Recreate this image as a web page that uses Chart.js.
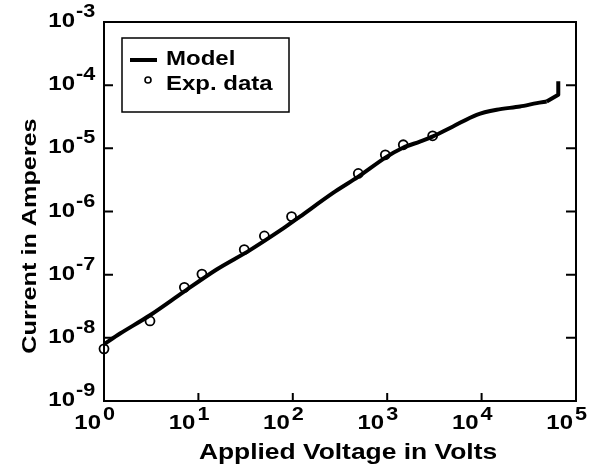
<!DOCTYPE html>
<html>
<head>
<meta charset="utf-8">
<script src="https://cdn.jsdelivr.net/npm/chart.js@4.4.1/dist/chart.umd.min.js"></script>
<style>
  html, body { margin: 0; padding: 0; background: #fff; }
</style>
</head>
<body>
<canvas id="ivChart" width="602" height="468"></canvas>
<script>
// Model curve: applied voltage (V) and current (A)
let modelVolts = [1, 1.48, 3.07, 6.92, 15.6, 35.2, 79.3, 119, 267, 491, 948, 1470, 2220, 3055, 4980, 8870, 14450, 25500, 38400, 48900, 64900, 64900];
let modelAmps = [7.9e-9, 1.17e-8, 2.28e-8, 5.3e-8, 1.21e-7, 2.45e-7, 5.4e-7, 8.3e-7, 1.97e-6, 3.53e-6, 7.06e-6, 1.02e-5, 1.28e-5, 1.55e-5, 2.22e-5, 3.4e-5, 4.08e-5, 4.6e-5, 5.2e-5, 5.5e-5, 7.06e-5, 1.15e-4];

// Experimental data points
let expVolts = [1, 3.07, 7.1, 10.9, 30.6, 50, 97, 494, 955, 1480, 3030];
let expAmps = [6.7e-9, 1.85e-8, 6.3e-8, 1.02e-7, 2.5e-7, 4.1e-7, 8.3e-7, 4.0e-6, 7.9e-6, 1.14e-5, 1.58e-5];

// Decade ticks and their exponents
let xTicks = [1, 10, 100, 1000, 10000, 100000];
let xExps = ["0", "1", "2", "3", "4", "5"];
let yTicks = [1e-9, 1e-8, 1e-7, 1e-6, 1e-5, 1e-4, 1e-3];
let yExps = ["-9", "-8", "-7", "-6", "-5", "-4", "-3"];

let xTitle = "Applied Voltage in Volts";
let yTitle = "Current in Amperes";
let legendLabels = ["Model", "Exp. data"];

// the original lettering is a wide Helvetica, so stretch Liberation Sans a bit
const SX = 1.2;
function wideText(ctx, text, x, y, size, align) {
  ctx.save();
  ctx.font = "bold " + size + 'px "Liberation Sans", Arial, sans-serif';
  let w = ctx.measureText(text).width * SX;
  let x0 = align === "right" ? x - w : align === "center" ? x - w / 2 : x;
  ctx.translate(x0, y);
  ctx.scale(SX, 1);
  ctx.textAlign = "left";
  ctx.textBaseline = "alphabetic";
  ctx.fillStyle = "#000";
  ctx.fillText(text, 0, 0);
  ctx.restore();
  return w;
}

// Frame, inward ticks, power-of-ten labels, titles and legend
const decorations = {
  id: "decorations",
  afterDatasetsDraw(chart) {
    let ctx = chart.ctx;
    let a = chart.chartArea;
    let xs = chart.scales.x;
    let ys = chart.scales.y;

    ctx.save();
    ctx.strokeStyle = "#000";
    ctx.lineWidth = 2;
    ctx.strokeRect(a.left, a.top, a.right - a.left, a.bottom - a.top);

    // y ticks on both sides, x ticks along the bottom
    ctx.beginPath();
    for (let i = 0; i < yTicks.length; i++) {
      let py = ys.getPixelForValue(yTicks[i]);
      ctx.moveTo(a.left, py);
      ctx.lineTo(a.left + 9, py);
      ctx.moveTo(a.right, py);
      ctx.lineTo(a.right - 10, py);
    }
    for (let i = 0; i < xTicks.length; i++) {
      let px = xs.getPixelForValue(xTicks[i]);
      ctx.moveTo(px, a.bottom);
      ctx.lineTo(px, a.bottom - 8);
    }
    ctx.stroke();

    // y labels
    for (let i = 0; i < yTicks.length; i++) {
      let py = ys.getPixelForValue(yTicks[i]);
      wideText(ctx, "10", a.left - 29, py + 5, 20, "right");
      wideText(ctx, yExps[i], a.left - 28, py - 5, 18, "left");
    }
    // x labels
    for (let i = 0; i < xTicks.length; i++) {
      let px = xs.getPixelForValue(xTicks[i]);
      wideText(ctx, "10", px - 3, 429, 20, "right");
      wideText(ctx, xExps[i], px - 1, 420, 18, "left");
    }

    // axis titles
    wideText(ctx, xTitle, 348, 459, 22, "center");
    ctx.save();
    ctx.translate(36, 236);
    ctx.rotate(-Math.PI / 2);
    wideText(ctx, yTitle, 0, 0, 21, "center");
    ctx.restore();

    // legend box
    ctx.lineWidth = 1.5;
    ctx.strokeRect(122, 38, 167, 74);
    ctx.lineWidth = 4;
    ctx.beginPath();
    ctx.moveTo(130, 60);
    ctx.lineTo(157, 60);
    ctx.stroke();
    ctx.lineWidth = 1.6;
    ctx.beginPath();
    ctx.arc(148, 80, 3, 0, Math.PI * 2);
    ctx.stroke();
    wideText(ctx, legendLabels[0], 166, 65, 20, "left");
    wideText(ctx, legendLabels[1], 166, 90, 20, "left");
    ctx.restore();
  },
};

let modelPoints = modelVolts.map((v, i) => ({ x: v, y: modelAmps[i] }));
let expPoints = expVolts.map((v, i) => ({ x: v, y: expAmps[i] }));

// smooth body of the curve, and the sharp hook at the very end
let n = modelPoints.length;
let modelBody = modelPoints.slice(0, n - 2);
let modelHook = modelPoints.slice(n - 3);

let lineStyle = {
  showLine: true,
  borderColor: "#000",
  borderWidth: 4,
  borderJoinStyle: "round",
  pointRadius: 0,
  clip: false,
  order: 0,
};

new Chart(document.getElementById("ivChart"), {
  type: "scatter",
  data: {
    datasets: [
      Object.assign({ label: legendLabels[0], data: modelBody, tension: 0.3 }, lineStyle),
      Object.assign({ label: legendLabels[0], data: modelHook, tension: 0, borderJoinStyle: "miter" }, lineStyle),
      {
        label: legendLabels[1],
        data: expPoints,
        showLine: false,
        pointStyle: "circle",
        pointRadius: 4.5,
        pointBorderWidth: 1.8,
        pointBorderColor: "#000",
        pointBackgroundColor: "#fff",
        clip: false,
        order: 1,
      },
    ],
  },
  options: {
    responsive: false,
    devicePixelRatio: 1,
    animation: false,
    layout: { padding: { left: 104, right: 26, top: 22, bottom: 67 } },
    plugins: { legend: { display: false }, tooltip: { enabled: false } },
    scales: {
      x: { type: "logarithmic", min: 1, max: 100000, display: false },
      y: { type: "logarithmic", min: 1e-9, max: 1e-3, display: false },
    },
  },
  plugins: [decorations],
});
</script>
</body>
</html>
